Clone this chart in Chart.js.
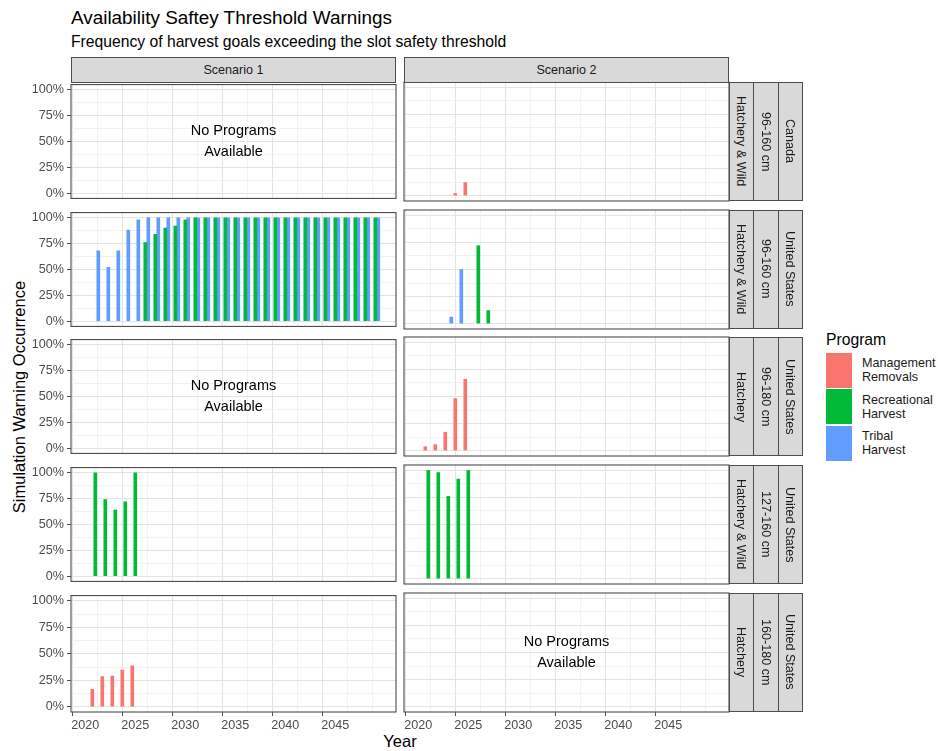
<!DOCTYPE html>
<html>
<head>
<meta charset="utf-8">
<script src="https://cdn.jsdelivr.net/npm/chart.js@4"></script>
<style>
  body { margin: 0; width: 938px; height: 751px; background: #fff; position: relative; overflow: hidden;
         font-family: "Liberation Sans", Arial, sans-serif; color: #000; }
  .txt { position: absolute; white-space: nowrap; }
  .strip { position: absolute; box-sizing: border-box; background: #d9d9d9; border: 1px solid #4d4d4d;
           color: #1a1a1a; font-size: 12.6px; display: flex; align-items: center; justify-content: center; }
  .strip.v span { writing-mode: vertical-rl; }
  .key { position: absolute; left: 826px; width: 26px; height: 35px; }
  .keylab { position: absolute; left: 862px; font-size: 12.6px; line-height: 14px; color: #1a1a1a; }
  canvas { position: absolute; }
</style>
</head>
<body>
<div class="txt" style="left:71px;top:7px;font-size:18.9px;line-height:22px;color:#000">Availability Saftey Threshold Warnings</div>
<div class="txt" style="left:71px;top:33px;font-size:15.7px;line-height:18px;color:#000">Frequency of harvest goals exceeding the slot safety threshold</div>
<div class="txt" style="left:19px;top:397px;font-size:16.5px;transform:translate(-50%,-50%) rotate(-90deg)">Simulation Warning Occurrence</div>
<div class="txt" style="left:400px;top:741px;font-size:16.5px;transform:translate(-50%,-50%)">Year</div>
<div id="legend"></div>
<div id="panels"></div>

<script>
// ---- data ----
const scenarios = ['Scenario 1', 'Scenario 2'];
const programs = ['Management\nRemovals', 'Recreational\nHarvest', 'Tribal\nHarvest'];
const programColors = ['#F8766D', '#00BA38', '#619CFF'];

const facetOrigin = ['Hatchery & Wild', 'Hatchery & Wild', 'Hatchery', 'Hatchery & Wild', 'Hatchery'];
const facetSlot = ['96-160 cm', '96-160 cm', '96-180 cm', '127-160 cm', '160-180 cm'];
const facetCountry = ['Canada', 'United States', 'United States', 'United States', 'United States'];

const xTickValues = [2020, 2025, 2030, 2035, 2040, 2045];
const xTickLabels = ['2020', '2025', '2030', '2035', '2040', '2045'];
const yTickValues = [0, 0.25, 0.5, 0.75, 1];
const yTickLabels = ['0%', '25%', '50%', '75%', '100%'];

const yearsEarly = [2021, 2022, 2023, 2024, 2025];
const yearsAll = [2021, 2022, 2023, 2024, 2025, 2026, 2027, 2028, 2029, 2030,
                  2031, 2032, 2033, 2034, 2035, 2036, 2037, 2038, 2039, 2040,
                  2041, 2042, 2043, 2044, 2045, 2046, 2047, 2048, 2049];
const yearsRecLate = [2026, 2027, 2028, 2029, 2030, 2031, 2032, 2033, 2034, 2035,
                      2036, 2037, 2038, 2039, 2040, 2041, 2042, 2043, 2044, 2045,
                      2046, 2047, 2048, 2049];

// Canada 96-160 cm, Hatchery & Wild
const canHw96S2MgmtYears = [2024, 2025];
const canHw96S2Mgmt = [0.02, 0.12];
// United States 96-160 cm, Hatchery & Wild
const usHw96S1Rec = [0.76, 0.84, 0.90, 0.92, 0.98, 1, 1, 1, 1, 1,
                     1, 1, 1, 1, 1, 1, 1, 1, 1, 1,
                     1, 1, 1, 1];
const usHw96S1Tribal = [0.68, 0.52, 0.68, 0.88, 0.98, 1, 1, 1, 1, 1,
                        1, 1, 1, 1, 1, 1, 1, 1, 1, 1,
                        1, 1, 1, 1, 1, 1, 1, 1, 1];
const usHw96S2TribalYears = [2023, 2024];
const usHw96S2Tribal = [0.06, 0.50];
const usHw96S2RecYears = [2026, 2027];
const usHw96S2Rec = [0.72, 0.12];
// United States 96-180 cm, Hatchery
const usH96S2Mgmt = [0.035, 0.055, 0.17, 0.48, 0.66];
// United States 127-160 cm, Hatchery & Wild
const usHw127S1Rec = [1.00, 0.74, 0.64, 0.72, 1.00];
const usHw127S2Rec = [1.00, 0.98, 0.76, 0.92, 1.00];
// United States 160-180 cm, Hatchery
const usH160S1Mgmt = [0.165, 0.285, 0.29, 0.345, 0.385];

const noPrograms = 'No Programs\nAvailable';

// [row][col] -> [mgmt, rec, tribal] as [years, values] or null
const panelSeries = [
  [null, [[canHw96S2MgmtYears, canHw96S2Mgmt], null, null]],
  [[null, [yearsRecLate, usHw96S1Rec], [yearsAll, usHw96S1Tribal]],
   [null, [usHw96S2RecYears, usHw96S2Rec], [usHw96S2TribalYears, usHw96S2Tribal]]],
  [null, [[yearsEarly, usH96S2Mgmt], null, null]],
  [[null, [yearsEarly, usHw127S1Rec], null], [null, [yearsEarly, usHw127S2Rec], null]],
  [[[yearsEarly, usH160S1Mgmt], null, null], null]
];

// ---- layout ----
const colLefts = [71, 404];
const panelW = 325;
const rowTops = [82, 209.7, 337.4, 465.1, 592.8];
const panelH = 119;
const X_MIN = 2018.57, X_MAX = 2051.07;
const PAD = 8;
const FONT = '"Liberation Sans", Arial, sans-serif';

const xGrid = [2020, 2022.5, 2025, 2027.5, 2030, 2032.5, 2035, 2037.5, 2040, 2042.5, 2045, 2047.5, 2050];
const yGrid = [0, 0.125, 0.25, 0.375, 0.5, 0.625, 0.75, 0.875, 1];

const panelFrame = {
  id: 'panelFrame',
  afterDraw(chart, args, opts) {
    const { ctx, chartArea: a } = chart;
    ctx.save();
    if (opts.note) {
      ctx.fillStyle = '#000';
      ctx.font = '14.5px ' + FONT;
      ctx.textAlign = 'center';
      ctx.textBaseline = 'middle';
      const cx = (a.left + a.right) / 2, cy = (a.top + a.bottom) / 2;
      const lines = opts.note.split('\n');
      lines.forEach((l, i) => ctx.fillText(l, cx, cy + (i - (lines.length - 1) / 2) * 21));
    }
    ctx.strokeStyle = '#4d4d4d';
    ctx.lineWidth = 1.1;
    ctx.strokeRect(a.left, a.top, a.right - a.left, a.bottom - a.top);
    ctx.restore();
  }
};

const host = document.getElementById('panels');

function addDiv(cls, style, text, vertical) {
  const d = document.createElement('div');
  d.className = cls + (vertical ? ' v' : '');
  Object.assign(d.style, style);
  const s = document.createElement('span');
  s.textContent = text;
  d.appendChild(s);
  document.body.appendChild(d);
}

const tickVal = c => (c && c.tick) ? c.tick.value : NaN;

function makePanel(row, col) {
  const isLeft = col === 0, isBottom = row === rowTops.length - 1;
  const yW = isLeft ? 45 : 0, xH = isBottom ? 22 : 0;
  const w = Math.round(panelW + yW + 2 * PAD), h = Math.round(panelH + xH + 2 * PAD);
  const cv = document.createElement('canvas');
  cv.width = w; cv.height = h;
  cv.style.left = (colLefts[col] - yW - PAD) + 'px';
  cv.style.top = (rowTops[row] - PAD) + 'px';
  cv.style.width = w + 'px'; cv.style.height = h + 'px';
  host.appendChild(cv);

  const series = panelSeries[row][col];
  const datasets = programs.map((p, k) => {
    const s = series ? series[k] : null;
    return {
      label: p,
      data: s ? s[0].map((yr, i) => ({ x: yr, y: s[1][i] })) : [],
      backgroundColor: programColors[k],
      borderWidth: 0,
      barThickness: 3
    };
  });

  const majorX = c => xTickValues.includes(tickVal(c));
  const majorY = c => yTickValues.includes(tickVal(c));

  new Chart(cv, {
    type: 'bar',
    data: { datasets },
    plugins: [panelFrame],
    options: {
      responsive: false,
      animation: false,
      layout: { padding: PAD },
      plugins: {
        legend: { display: false },
        tooltip: { enabled: false },
        panelFrame: { note: series ? null : noPrograms }
      },
      scales: {
        x: {
          type: 'linear', min: X_MIN, max: X_MAX, offset: false,
          afterBuildTicks: s => { s.ticks = xGrid.map(v => ({ value: v })); },
          afterFit: s => { s.height = xH; },
          ticks: {
            display: isBottom, autoSkip: false, maxRotation: 0, padding: 2,
            color: '#4d4d4d', font: { size: 12.6, family: FONT },
            callback: v => { const i = xTickValues.indexOf(v); return i >= 0 ? xTickLabels[i] : ''; }
          },
          grid: {
            color: c => majorX(c) ? '#e4e4e4' : '#efefef',
            lineWidth: c => majorX(c) ? 1 : 0.8,
            drawTicks: isBottom, tickLength: 4, tickWidth: 1,
            tickColor: c => majorX(c) ? '#4d4d4d' : 'rgba(0,0,0,0)'
          },
          border: { display: false }
        },
        y: {
          type: 'linear', min: -0.05, max: 1.05,
          afterBuildTicks: s => { s.ticks = yGrid.map(v => ({ value: v })); },
          afterFit: s => { s.width = yW; },
          ticks: {
            display: isLeft, autoSkip: false, padding: 3,
            color: '#4d4d4d', font: { size: 12.6, family: FONT },
            callback: v => { const i = yTickValues.indexOf(v); return i >= 0 ? yTickLabels[i] : ''; }
          },
          grid: {
            color: c => majorY(c) ? '#e4e4e4' : '#efefef',
            lineWidth: c => majorY(c) ? 1 : 0.8,
            drawTicks: isLeft, tickLength: 4, tickWidth: 1,
            tickColor: c => majorY(c) ? '#4d4d4d' : 'rgba(0,0,0,0)'
          },
          border: { display: false }
        }
      }
    }
  });
}

// strips
scenarios.forEach((s, c) => addDiv('strip', { left: colLefts[c] + 'px', top: '57px', width: panelW + 'px', height: '25.5px' }, s));
const stripLefts = [728.5, 753, 777.5];
rowTops.forEach((t, r) => {
  [facetOrigin[r], facetSlot[r], facetCountry[r]].forEach((lab, k) =>
    addDiv('strip', { left: stripLefts[k] + 'px', top: t + 'px', width: '25.5px', height: panelH + 'px' }, lab, true));
});

// legend
const lg = document.getElementById('legend');
let lgHtml = '<div class="txt" style="left:826px;top:330px;font-size:15.7px;line-height:19px;color:#000">Program</div>';
programs.forEach((p, k) => {
  const top = 352.5 + k * 36.5;
  lgHtml += `<div class="key" style="top:${top}px;background:${programColors[k]}"></div>` +
    `<div class="keylab" style="top:${top + 3.5}px">${p.replace('\n', '<br>')}</div>`;
});
lg.innerHTML = lgHtml;

// panels
rowTops.forEach((t, r) => colLefts.forEach((l, c) => makePanel(r, c)));
</script>
</body>
</html>
